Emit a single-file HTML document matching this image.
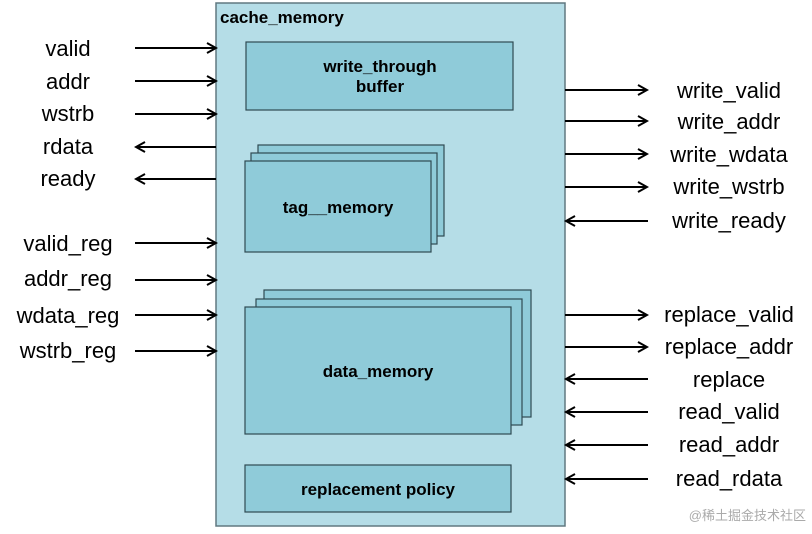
<!DOCTYPE html>
<html><head><meta charset="utf-8"><style>
body{margin:0;background:#fff;width:812px;height:529px;overflow:hidden}
svg text{font-family:"Liberation Sans","DejaVu Sans",sans-serif}
</style></head><body>
<svg width="812" height="529" xmlns="http://www.w3.org/2000/svg">
<defs>
<marker id="a" markerWidth="12" markerHeight="12" refX="10" refY="6" orient="auto" markerUnits="userSpaceOnUse">
<path d="M1,1 L10,6 L1,11" fill="none" stroke="#000" stroke-width="2"/></marker>
</defs>
<rect x="216" y="3" width="349" height="523" fill="#b5dde7" stroke="#607880" stroke-width="1.5"/>
<text x="220" y="23" font-size="17" font-weight="bold">cache_memory</text>
<g fill="#8fcbd9" stroke="#2f4a52" stroke-width="1.2">
<rect x="246" y="42" width="267" height="68"/>
<rect x="258" y="145" width="186" height="91"/>
<rect x="251" y="153" width="186" height="91"/>
<rect x="245" y="161" width="186" height="91"/>
<rect x="264" y="290" width="267" height="127"/>
<rect x="256" y="299" width="266" height="126"/>
<rect x="245" y="307" width="266" height="127"/>
<rect x="245" y="465" width="266" height="47"/>
</g>
<g font-size="17" font-weight="bold" text-anchor="middle">
<text x="380" y="72">write_through</text>
<text x="380" y="92">buffer</text>
<text x="338" y="213">tag__memory</text>
<text x="378" y="377">data_memory</text>
<text x="378" y="495">replacement policy</text>
</g>
<g stroke="#000" stroke-width="2" marker-end="url(#a)">
<line x1="135" y1="48" x2="216" y2="48"/>
<line x1="135" y1="81" x2="216" y2="81"/>
<line x1="135" y1="114" x2="216" y2="114"/>
<line x1="216" y1="147" x2="136" y2="147"/>
<line x1="216" y1="179" x2="136" y2="179"/>
<line x1="135" y1="243" x2="216" y2="243"/>
<line x1="135" y1="280" x2="216" y2="280"/>
<line x1="135" y1="315" x2="216" y2="315"/>
<line x1="135" y1="351" x2="216" y2="351"/>
<line x1="565" y1="90" x2="647" y2="90"/>
<line x1="565" y1="121" x2="647" y2="121"/>
<line x1="565" y1="154" x2="647" y2="154"/>
<line x1="565" y1="187" x2="647" y2="187"/>
<line x1="648" y1="221" x2="566" y2="221"/>
<line x1="565" y1="315" x2="647" y2="315"/>
<line x1="565" y1="347" x2="647" y2="347"/>
<line x1="648" y1="379" x2="566" y2="379"/>
<line x1="648" y1="412" x2="566" y2="412"/>
<line x1="648" y1="445" x2="566" y2="445"/>
<line x1="648" y1="479" x2="566" y2="479"/>
</g>
<g font-size="22" text-anchor="middle" fill="#000">
<text x="68" y="56">valid</text>
<text x="68" y="89">addr</text>
<text x="68" y="121">wstrb</text>
<text x="68" y="154">rdata</text>
<text x="68" y="186">ready</text>
<text x="68" y="251">valid_reg</text>
<text x="68" y="286">addr_reg</text>
<text x="68" y="323">wdata_reg</text>
<text x="68" y="358">wstrb_reg</text>
<text x="729" y="98">write_valid</text>
<text x="729" y="129">write_addr</text>
<text x="729" y="162">write_wdata</text>
<text x="729" y="194">write_wstrb</text>
<text x="729" y="228">write_ready</text>
<text x="729" y="322">replace_valid</text>
<text x="729" y="354">replace_addr</text>
<text x="729" y="387">replace</text>
<text x="729" y="419">read_valid</text>
<text x="729" y="452">read_addr</text>
<text x="729" y="486">read_rdata</text>
</g>
<text x="806" y="520" font-size="13" text-anchor="end" fill="#aaa" style="font-family:'Liberation Sans','Noto Sans CJK SC',sans-serif">@稀土掘金技术社区</text>
</svg>
</body></html>
